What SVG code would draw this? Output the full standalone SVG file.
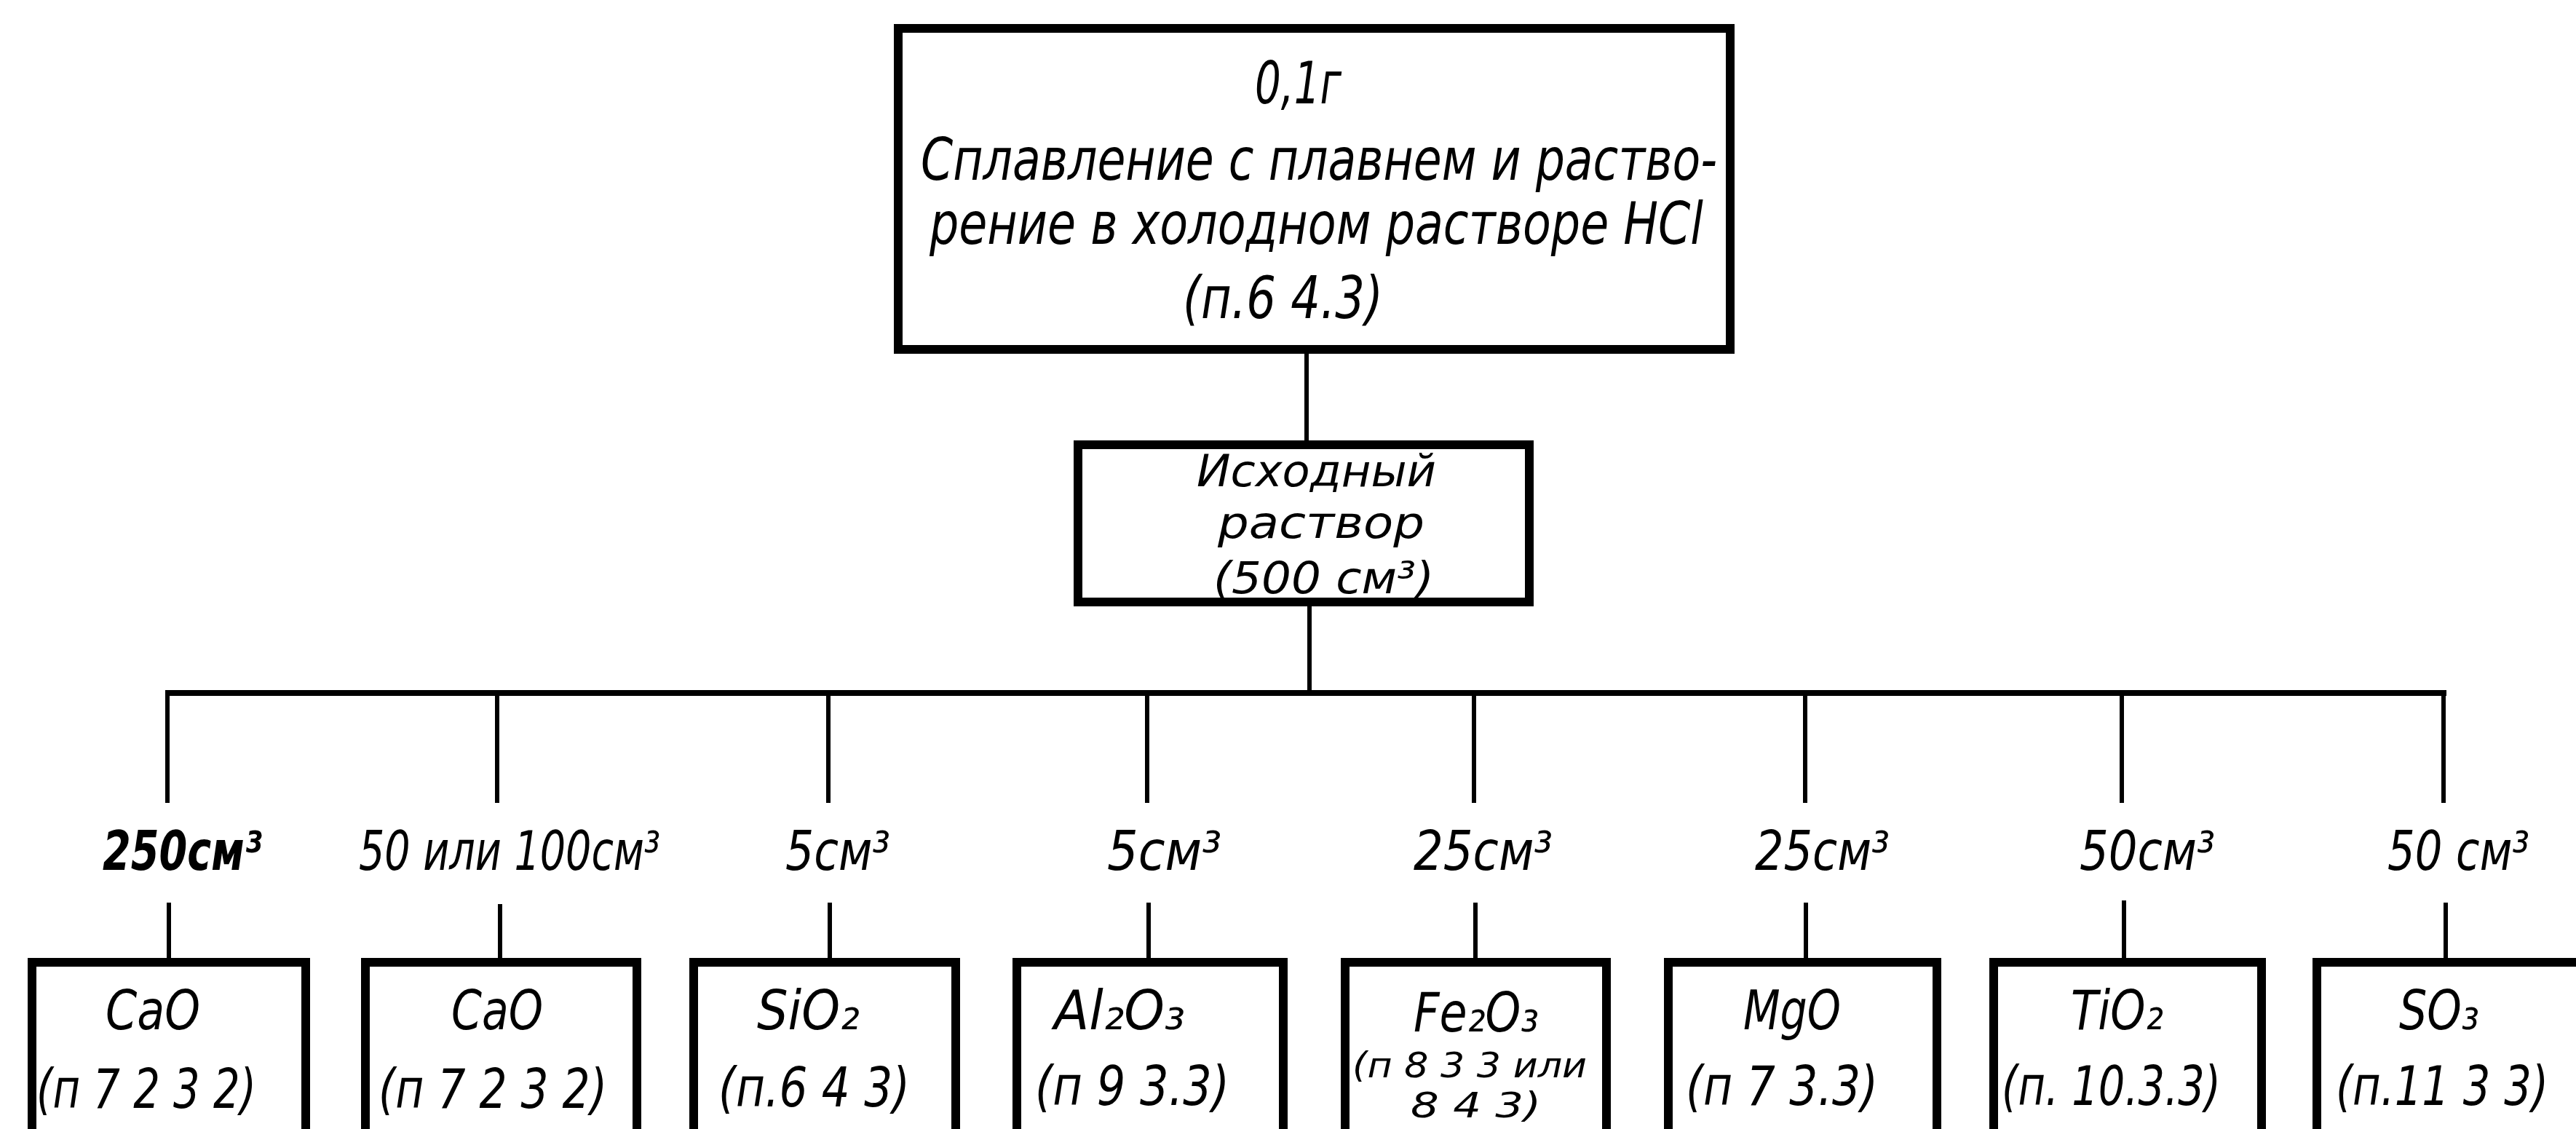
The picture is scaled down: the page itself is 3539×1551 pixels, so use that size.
<svg xmlns="http://www.w3.org/2000/svg" width="3539" height="1551" viewBox="0 0 3539 1551">
<style>
.box{fill:none;stroke:#000;stroke-width:12}
.ln{fill:none;stroke:#000;stroke-width:6}
.bus{fill:none;stroke:#000;stroke-width:8}
text{font-family:"Liberation Sans Narrow","DejaVu Sans Condensed","Liberation Sans",sans-serif;font-style:italic;fill:#000}
.t80{font-size:80px}
.t74{font-size:74px}
.t60{font-size:60px}
.t48{font-size:48px}
</style>
<rect width="3539" height="1551" fill="#fff"/>
<g id="connectors">
<line class="ln" x1="1795" y1="480" x2="1795" y2="606"/>
<line class="ln" x1="1799" y1="833" x2="1799" y2="952"/>
<line class="bus" x1="227" y1="952" x2="3361" y2="952"/>
<line class="ln" x1="230" y1="952" x2="230" y2="1103"/>
<line class="ln" x1="683" y1="952" x2="683" y2="1103"/>
<line class="ln" x1="1138" y1="952" x2="1138" y2="1103"/>
<line class="ln" x1="1576" y1="952" x2="1576" y2="1103"/>
<line class="ln" x1="2025" y1="952" x2="2025" y2="1103"/>
<line class="ln" x1="2480" y1="952" x2="2480" y2="1103"/>
<line class="ln" x1="2915" y1="952" x2="2915" y2="1103"/>
<line class="ln" x1="3357" y1="952" x2="3357" y2="1103"/>
<line class="ln" x1="232" y1="1240" x2="232" y2="1320"/>
<line class="ln" x1="687" y1="1242" x2="687" y2="1320"/>
<line class="ln" x1="1140" y1="1240" x2="1140" y2="1320"/>
<line class="ln" x1="1578" y1="1240" x2="1578" y2="1320"/>
<line class="ln" x1="2027" y1="1240" x2="2027" y2="1320"/>
<line class="ln" x1="2481" y1="1240" x2="2481" y2="1320"/>
<line class="ln" x1="2918" y1="1237" x2="2918" y2="1320"/>
<line class="ln" x1="3360" y1="1240" x2="3360" y2="1320"/>
</g>
<g id="connector-labels" class="t74">
<text x="141" y="1195" textLength="219" lengthAdjust="spacingAndGlyphs" font-weight="bold">250см³</text>
<text x="493" y="1195" textLength="414" lengthAdjust="spacingAndGlyphs">50 или 100см³</text>
<text x="1079" y="1195" textLength="144" lengthAdjust="spacingAndGlyphs">5см³</text>
<text x="1521" y="1195" textLength="157" lengthAdjust="spacingAndGlyphs">5см³</text>
<text x="1942" y="1195" textLength="191" lengthAdjust="spacingAndGlyphs">25см³</text>
<text x="2411" y="1195" textLength="185" lengthAdjust="spacingAndGlyphs">25см³</text>
<text x="2857" y="1195" textLength="186" lengthAdjust="spacingAndGlyphs">50см³</text>
<text x="3280" y="1195" textLength="195" lengthAdjust="spacingAndGlyphs">50 см³</text>
</g>
<g id="node-fusion">
<rect class="box" x="1234" y="39" width="1143" height="441"/>
<text class="t80" x="1724" y="142" textLength="119" lengthAdjust="spacingAndGlyphs">0,1г</text>
<text class="t80" x="1265" y="247" textLength="1094" lengthAdjust="spacingAndGlyphs">Сплавление с плавнем и раство-</text>
<text class="t80" x="1277" y="335" textLength="1063" lengthAdjust="spacingAndGlyphs">рение в холодном растворе HCl</text>
<text class="t80" x="1625" y="437" textLength="275" lengthAdjust="spacingAndGlyphs">(п.6 4.3)</text>
</g>
<g id="node-source">
<rect class="box" x="1481" y="611" width="620" height="216"/>
<text class="t60" x="1644" y="668" textLength="329" lengthAdjust="spacingAndGlyphs">Исходный</text>
<text class="t60" x="1673" y="739" textLength="284" lengthAdjust="spacingAndGlyphs">раствор</text>
<text class="t60" x="1667" y="815" textLength="303" lengthAdjust="spacingAndGlyphs">(500 см³)</text>
</g>
<g id="node-cao-1">
<rect class="box" x="44" y="1322" width="376" height="320"/>
<text class="t74" x="145" y="1414" textLength="130" lengthAdjust="spacingAndGlyphs">CaO</text>
<text class="t74" x="50" y="1522" textLength="302" lengthAdjust="spacingAndGlyphs">(п 7 2 3 2)</text>
</g>
<g id="node-cao-2">
<rect class="box" x="502" y="1322" width="373" height="320"/>
<text class="t74" x="620" y="1414" textLength="126" lengthAdjust="spacingAndGlyphs">CaO</text>
<text class="t74" x="520" y="1522" textLength="314" lengthAdjust="spacingAndGlyphs">(п 7 2 3 2)</text>
</g>
<g id="node-sio2">
<rect class="box" x="953" y="1322" width="360" height="320"/>
<text class="t74" x="1040" y="1414" textLength="141" lengthAdjust="spacingAndGlyphs">SiO₂</text>
<text class="t74" x="987" y="1520" textLength="263" lengthAdjust="spacingAndGlyphs">(п.6 4 3)</text>
</g>
<g id="node-al2o3">
<rect class="box" x="1397" y="1322" width="366" height="320"/>
<text class="t74" x="1448" y="1414" textLength="180" lengthAdjust="spacingAndGlyphs">Al₂O₃</text>
<text class="t74" x="1422" y="1518" textLength="267" lengthAdjust="spacingAndGlyphs">(п 9 3.3)</text>
</g>
<g id="node-fe2o3">
<rect class="box" x="1848" y="1322" width="359" height="320"/>
<text class="t74" x="1942" y="1417" textLength="172" lengthAdjust="spacingAndGlyphs">Fe₂O₃</text>
<text class="t48" x="1858" y="1480" textLength="322" lengthAdjust="spacingAndGlyphs">(п 8 3 3 или</text>
<text class="t48" x="1938" y="1535" textLength="179" lengthAdjust="spacingAndGlyphs">8 4 3)</text>
</g>
<g id="node-mgo">
<rect class="box" x="2292" y="1322" width="369" height="320"/>
<text class="t74" x="2395" y="1414" textLength="134" lengthAdjust="spacingAndGlyphs">MgO</text>
<text class="t74" x="2316" y="1518" textLength="264" lengthAdjust="spacingAndGlyphs">(п 7 3.3)</text>
</g>
<g id="node-tio2">
<rect class="box" x="2739" y="1322" width="368" height="320"/>
<text class="t74" x="2845" y="1414" textLength="127" lengthAdjust="spacingAndGlyphs">TiO₂</text>
<text class="t74" x="2750" y="1518" textLength="301" lengthAdjust="spacingAndGlyphs">(п. 10.3.3)</text>
</g>
<g id="node-so3">
<rect class="box" x="3183" y="1322" width="420" height="320"/>
<text class="t74" x="3296" y="1414" textLength="110" lengthAdjust="spacingAndGlyphs">SO₃</text>
<text class="t74" x="3209" y="1518" textLength="292" lengthAdjust="spacingAndGlyphs">(п.11 3 3)</text>
</g>
</svg>
